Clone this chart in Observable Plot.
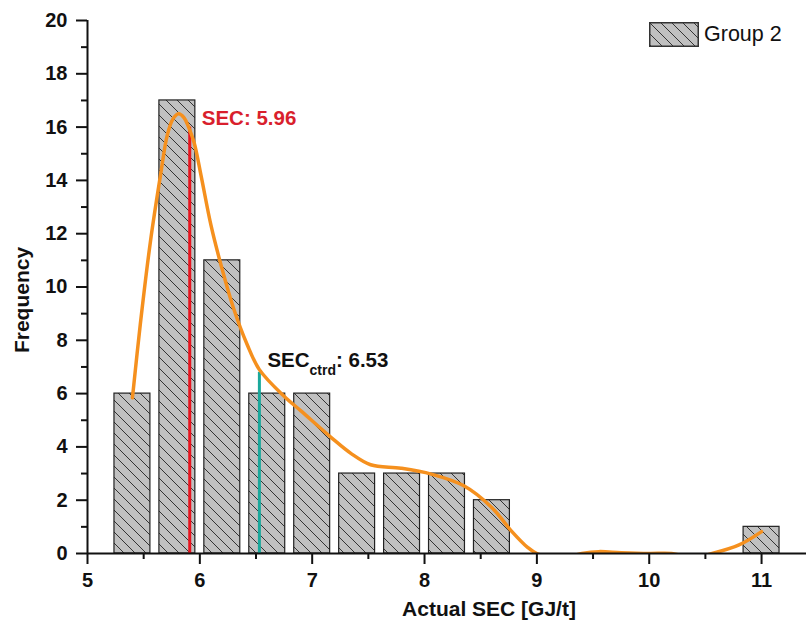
<!DOCTYPE html>
<html>
<head>
<meta charset="utf-8">
<script src="https://cdn.jsdelivr.net/npm/d3@7"></script>
<script src="https://cdn.jsdelivr.net/npm/@observablehq/plot@0.6"></script>
<style>
  html, body { margin: 0; padding: 0; background: #fff; }
  #wrap { position: relative; width: 806px; height: 632px; font-family: "Liberation Sans", Arial, sans-serif; }
  #legend { position: absolute; left: 649px; top: 22px; display: flex; align-items: center; font-size: 21.5px; color: #111; }
  #legend svg { display: block; margin-right: 5px; }
</style>
</head>
<body>
<div id="wrap"><div id="chart"></div>
  <div id="legend"></div>
</div>
<script>
// ---- data ----
const binCenters = [5.4, 5.8, 6.2, 6.6, 7.0, 7.4, 7.8, 8.2, 8.6, 11.0];
const frequencies = [6, 17, 11, 6, 6, 3, 3, 3, 2, 1];
const binWidth = 0.4;

const curveX = [5.40, 5.47, 5.56, 5.65, 5.71, 5.76, 5.81, 5.86, 5.90, 5.95, 6.01, 6.10, 6.19, 6.30, 6.42, 6.53, 6.75, 6.90, 7.17, 7.35, 7.52, 7.79, 8.06, 8.35, 8.60, 8.77, 8.92, 9.00, 9.20, 9.40, 9.55, 9.75, 10.0, 10.2, 10.38, 10.56, 10.8, 11.0];
const curveY = [5.84, 8.6, 11.7, 14.2, 15.7, 16.3, 16.5, 16.35, 16.0, 15.4, 14.2, 12.3, 10.8, 9.2, 7.85, 6.9, 5.9, 5.35, 4.35, 3.74, 3.33, 3.2, 2.98, 2.54, 1.72, 0.86, 0.22, 0, -0.2, 0, 0.07, 0.03, 0, 0, -0.15, 0, 0.32, 0.82];

const secLabel = "SEC: 5.96";
const secLineX = 5.91;
const secLineTop = 16;
const ctrdValue = 6.53;
const ctrdLineTop = 6.8;

const xTicks = [5, 6, 7, 8, 9, 10, 11];
const xMinorTicks = [5.5, 6.5, 7.5, 8.5, 9.5, 10.5];
const yTicks = [0, 2, 4, 6, 8, 10, 12, 14, 16, 18, 20];
const yMinorTicks = [1, 3, 5, 7, 9, 11, 13, 15, 17, 19];
const seriesName = "Group 2";

// ---- tables ----
const bars = binCenters.map((c, i) => ({x1: c - binWidth / 2, x2: c + binWidth / 2, y: frequencies[i]}));
const curve = curveX.map((x, i) => ({x, y: curveY[i]}));

const fontFamily = "Liberation Sans, Arial, sans-serif";

const chart = Plot.plot({
  width: 806,
  height: 632,
  marginLeft: 87,
  marginRight: 0,
  marginTop: 20,
  marginBottom: 79,
  style: {fontFamily, fontSize: "20px", fontWeight: "bold", color: "#111", background: "#fff"},
  x: {domain: [5, 11.4], axis: null},
  y: {domain: [0, 20], axis: null},
  marks: [
    Plot.rectY(bars, {x1: "x1", x2: "x2", y: "y", insetLeft: 4.5, insetRight: 4.5, fill: "url(#hatch)", stroke: "#222", strokeWidth: 1.2}),
    Plot.ruleX([{x: secLineX, y2: secLineTop}], {x: "x", y1: 0, y2: "y2", stroke: "#e8141f", strokeWidth: 3}),
    Plot.ruleX([{x: ctrdValue, y2: ctrdLineTop}], {x: "x", y1: 0, y2: "y2", stroke: "#1aa89b", strokeWidth: 3}),
    Plot.line(curve, {x: "x", y: "y", curve: "catmull-rom", stroke: "#f5901e", strokeWidth: 3.5, clip: true}),
    // axes
    Plot.ruleY([0], {stroke: "#111", strokeWidth: 2}),
    Plot.ruleX([5], {stroke: "#111", strokeWidth: 2}),
    Plot.axisX(xTicks, {tickSize: 11, tickPadding: 8, fontSize: 20, fontWeight: "bold", strokeWidth: 2, stroke: "#111", fill: "#111"}),
    Plot.axisX(xMinorTicks, {tickSize: 6, text: null, strokeWidth: 2, stroke: "#111", label: null}),
    Plot.axisY(yTicks, {tickSize: 11, tickPadding: 9, fontSize: 20, fontWeight: "bold", strokeWidth: 2, stroke: "#111", fill: "#111"}),
    Plot.axisY(yMinorTicks, {tickSize: 6, text: null, strokeWidth: 2, stroke: "#111", label: null}),
    Plot.text(["Actual SEC [GJ/t]"], {frameAnchor: "bottom", dx: 42, dy: 62, fontSize: 21, fontWeight: "bold", fill: "#111"}),
    Plot.text(["Frequency"], {frameAnchor: "left", textAnchor: "middle", rotate: -90, dx: -65, dy: 13, fontSize: 21, fontWeight: "bold", fill: "#111"}),
    // annotations
    Plot.text([{x: secLineX, y: secLineTop}], {x: "x", y: "y", text: () => secLabel, dx: 12, dy: -2, textAnchor: "start", lineAnchor: "bottom", fontSize: 20.5, fontWeight: "bold", fill: "#d91f2d"}),
    Plot.text([{x: ctrdValue, y: ctrdLineTop}], {x: "x", y: "y", text: () => "SEC_ctrd: " + ctrdValue.toFixed(2), dx: 8, dy: -5, textAnchor: "start", lineAnchor: "bottom", fontSize: 20.5, fontWeight: "bold", fill: "#111"})
  ]
});

// hatch pattern
const svg = d3.select(chart);
const defs = svg.insert("defs", ":first-child");
function addHatch(d, id) {
  const p = d.append("pattern").attr("id", id).attr("patternUnits", "userSpaceOnUse").attr("width", 11).attr("height", 11);
  p.append("rect").attr("width", 11).attr("height", 11).attr("fill", "#c0c0c0");
  p.append("path").attr("d", "M0,0L11,11M-2,9L2,13M9,-2L13,2").attr("stroke", "#333").attr("stroke-width", 1);
}
addHatch(defs, "hatch");

// subscript text
svg.selectAll("text").each(function() {
  const t = d3.select(this);
  const s = t.text();
  if (s.startsWith("SEC_ctrd")) {
    const rest = s.slice("SEC_ctrd".length);
    t.text(null);
    t.append("tspan").text("SEC");
    t.append("tspan").attr("dy", 8).attr("font-size", 14).text("ctrd");
    t.append("tspan").attr("dy", -8).text(rest);
  }
});

document.getElementById("chart").appendChild(chart);

// legend
const leg = d3.select("#legend");
const sw = leg.append("svg").attr("width", 50).attr("height", 25);
addHatch(sw.append("defs"), "hatchLeg");
sw.append("rect").attr("x", 0.75).attr("y", 0.75).attr("width", 48.5).attr("height", 23.5).attr("fill", "url(#hatchLeg)").attr("stroke", "#333").attr("stroke-width", 1.5);
leg.append("span").text(seriesName);
</script>
</body>
</html>
